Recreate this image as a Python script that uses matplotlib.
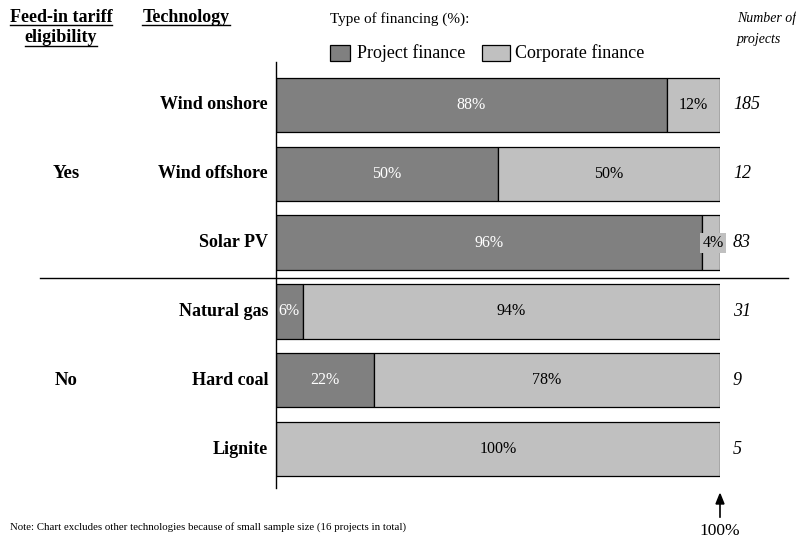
import matplotlib.pyplot as plt
from matplotlib.lines import Line2D
from matplotlib.patches import Rectangle

plt.rcParams['font.family'] = 'Liberation Serif'
plt.rcParams['font.size'] = 11

technologies = ['Wind onshore', 'Wind offshore', 'Solar PV', 'Natural gas', 'Hard coal', 'Lignite']
project_finance = [88, 50, 96, 6, 22, 0]
corporate_finance = [12, 50, 4, 94, 78, 100]
n_projects = [185, 12, 83, 31, 9, 5]
fit_groups = ['Yes', 'No']

c_proj = '#808080'
c_corp = '#c0c0c0'

W, H = 796, 539
fig = plt.figure(figsize=(W / 100, H / 100), dpi=100)

# axes: x 0..100 -> px 276..720, spine from px 62 to 488
ax = fig.add_axes([276 / W, 1 - 488 / H, 444 / W, (488 - 62) / H])
row = 68.8
ax.set_xlim(0, 100)
ax.set_ylim((488 - 105) / row, -(105 - 62) / row)
for s in ['top', 'right', 'bottom']:
    ax.spines[s].set_visible(False)
ax.spines['left'].set_linewidth(1)
ax.set_xticks([])
ax.set_yticks([])

y = list(range(len(technologies)))
ax.barh(y, project_finance, height=0.79, color=c_proj, edgecolor='black', linewidth=0.9)
ax.barh(y, corporate_finance, left=project_finance, height=0.79, color=c_corp,
        edgecolor='black', linewidth=0.9)

for i, (p, c) in enumerate(zip(project_finance, corporate_finance)):
    if p > 0:
        ax.text(p / 2, i, f'{p}%', ha='center', va='center', color='white', fontsize=11.5)
    if c > 0:
        if c < 5:
            ax.text(p + c / 2 + 0.4, i, f'{c}%', ha='center', va='center', color='black',
                    fontsize=11.5, bbox=dict(facecolor=c_corp, edgecolor='none', pad=1.5))
        else:
            ax.text(p + c / 2, i, f'{c}%', ha='center', va='center', color='black',
                    fontsize=11.5)
    ax.text(-1.8, i, technologies[i], ha='right', va='center', fontweight='bold', fontsize=13)
    ax.text(102.9, i, str(n_projects[i]), ha='left', va='center', style='italic', fontsize=13)

# group labels and separator
ax.text(-47.3, 1, fit_groups[0], ha='center', va='center', fontweight='bold', fontsize=13.5)
ax.text(-47.3, 4, fit_groups[1], ha='center', va='center', fontweight='bold', fontsize=13.5)
fig.add_artist(Line2D([40 / W, 788 / W], [1 - 278 / H, 1 - 278 / H], color='black', lw=1))

# headers
h1 = fig.text(61 / W, 1 - 17 / H, 'Feed-in tariff', ha='center', va='center',
              fontweight='bold', fontsize=13)
h2 = fig.text(61 / W, 1 - 38 / H, 'eligibility', ha='center', va='center',
              fontweight='bold', fontsize=13)
h3 = fig.text(186 / W, 1 - 17 / H, 'Technology', ha='center', va='center',
              fontweight='bold', fontsize=13)
fig.text(330 / W, 1 - 19 / H, 'Type of financing (%):', ha='left', va='center', fontsize=11)
fig.text(737 / W, 1 - 18 / H, 'Number of', ha='left', va='center', style='italic', fontsize=10)
fig.text(737 / W, 1 - 40 / H, 'projects', ha='left', va='center', style='italic', fontsize=10)

# legend
fig.add_artist(Rectangle((330 / W, 1 - 61 / H), 20 / W, 16 / H, facecolor=c_proj,
                         edgecolor='black', lw=0.9, transform=fig.transFigure))
fig.text(357 / W, 1 - 53 / H, 'Project finance', ha='left', va='center', fontsize=13)
fig.add_artist(Rectangle((482 / W, 1 - 61 / H), 28 / W, 16 / H, facecolor=c_corp,
                         edgecolor='black', lw=0.9, transform=fig.transFigure))
fig.text(515 / W, 1 - 53 / H, 'Corporate finance', ha='left', va='center', fontsize=13)

# 100% marker
fig.add_artist(Line2D([720 / W, 720 / W], [1 - 517 / H, 1 - 503 / H], color='black', lw=1.2))
fig.add_artist(plt.Polygon([[716 / W, 1 - 504 / H], [724 / W, 1 - 504 / H], [720 / W, 1 - 494 / H]],
                           closed=True, color='black', transform=fig.transFigure))
fig.text(720 / W, 1 - 531 / H, '100%', ha='center', va='center', fontsize=12.5)

fig.text(10 / W, 1 - 527 / H,
         'Note: Chart excludes other technologies because of small sample size (16 projects in total)',
         ha='left', va='center', fontsize=7.85)

# underline the bold headers
fig.canvas.draw()
r = fig.canvas.get_renderer()
for t in [h1, h2, h3]:
    bb = t.get_window_extent(r)
    yy = bb.y0 + 1
    fig.add_artist(Line2D([bb.x0 / W, bb.x1 / W], [yy / H, yy / H], color='black', lw=1))

fig.savefig('out.png', dpi=100)
